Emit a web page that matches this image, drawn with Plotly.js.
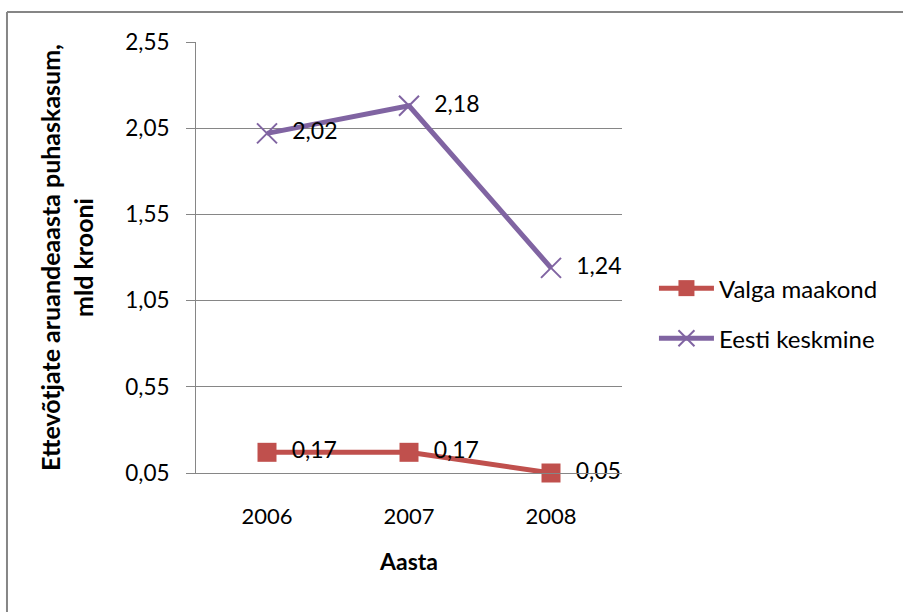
<!DOCTYPE html>
<html>
<head>
<meta charset="utf-8">
<script src="https://cdn.plot.ly/plotly-3.0.1.min.js"></script>
<style>
  html, body { margin: 0; padding: 0; background: #fff; }
  #graph { width: 903px; height: 612px; }
  #graph text { font-variant-ligatures: none; }
</style>
</head>
<body>
<div id="graph"></div>
<script>
// data
var years = ["2006", "2007", "2008"];
var valga = [0.17, 0.17, 0.05];
var eesti = [2.02, 2.18, 1.24];
var seriesNames = ["Valga maakond", "Eesti keskmine"];

var gray = "#868686";
var fontFam = "Lato, 'Open Sans', sans-serif";
var labelTpl = "\u00a0\u00a0%{y:.2f}";

var traceValga = {
  type: "scatter",
  mode: "lines+markers+text",
  name: seriesNames[0],
  legendgroup: "a",
  x: years,
  y: valga,
  texttemplate: labelTpl,
  textposition: "middle right",
  textfont: { family: fontFam, size: 23, color: "#000" },
  line: { color: "#C0504D", width: 5 },
  marker: { symbol: "square", size: 19, color: "#C0504D" },
  cliponaxis: false,
};

var traceEesti = {
  type: "scatter",
  mode: "lines+markers+text",
  name: seriesNames[1],
  legendgroup: "b",
  x: years,
  y: eesti,
  texttemplate: labelTpl,
  textposition: "middle right",
  textfont: { family: fontFam, size: 23, color: "#000" },
  line: { color: "#8064A2", width: 5 },
  marker: { symbol: "x-thin-open", size: 20, line: { color: "#8064A2", width: 2 } },
  cliponaxis: false,
};

var layout = {
  width: 903,
  height: 612,
  margin: { l: 196, r: 281, t: 42, b: 139, autoexpand: false },
  paper_bgcolor: "#fff",
  plot_bgcolor: "#fff",
  separators: ", ",
  font: { family: fontFam, size: 22, color: "#000" },
  showlegend: true,
  legend: {
    x: 1.075,
    xanchor: "left",
    y: 0.37,
    yanchor: "middle",
    traceorder: "grouped",
    tracegroupgap: 16,
    itemwidth: 55,
    font: { family: fontFam, size: 24, color: "#000" },
  },
  xaxis: {
    type: "category",
    range: [-0.5, 2.5],
    showgrid: false,
    showline: true,
    linecolor: gray,
    linewidth: 1,
    ticks: "",
    ticklabelstandoff: 24,
    tickfont: { family: fontFam, size: 22 },
    zeroline: false,
    fixedrange: true,
    automargin: false,
    title: {
      text: "Aasta",
      font: { family: fontFam, size: 23, weight: "bold" },
      standoff: 25,
    },
  },
  yaxis: {
    range: [0.05, 2.55],
    tick0: 0.05,
    dtick: 0.5,
    tickformat: ".2f",
    showgrid: true,
    gridcolor: gray,
    gridwidth: 1,
    showline: true,
    linecolor: gray,
    linewidth: 1,
    ticks: "outside",
    ticklen: 9,
    tickcolor: gray,
    ticklabelstandoff: 12,
    tickfont: { family: fontFam, size: 22.5 },
    zeroline: false,
    fixedrange: true,
    automargin: false,
    title: {
      text: "Ettevõtjate aruandeaasta puhaskasum,<br>mld krooni",
      font: { family: fontFam, size: 25, weight: "bold" },
      standoff: 24,
    },
  },
  shapes: [
    // outer chart border (top and left edges visible)
    { type: "line", xref: "paper", yref: "paper", x0: -0.4437, x1: 1.7, y0: 1.0696, y1: 1.0696,
      line: { color: gray, width: 2 } },
    { type: "line", xref: "paper", yref: "paper", x0: -0.4437, x1: -0.4437, y0: 1.0696, y1: -0.35,
      line: { color: gray, width: 2 } },
  ],
};

Plotly.newPlot("graph", [traceValga, traceEesti], layout, { displayModeBar: false, staticPlot: true });
</script>
</body>
</html>
